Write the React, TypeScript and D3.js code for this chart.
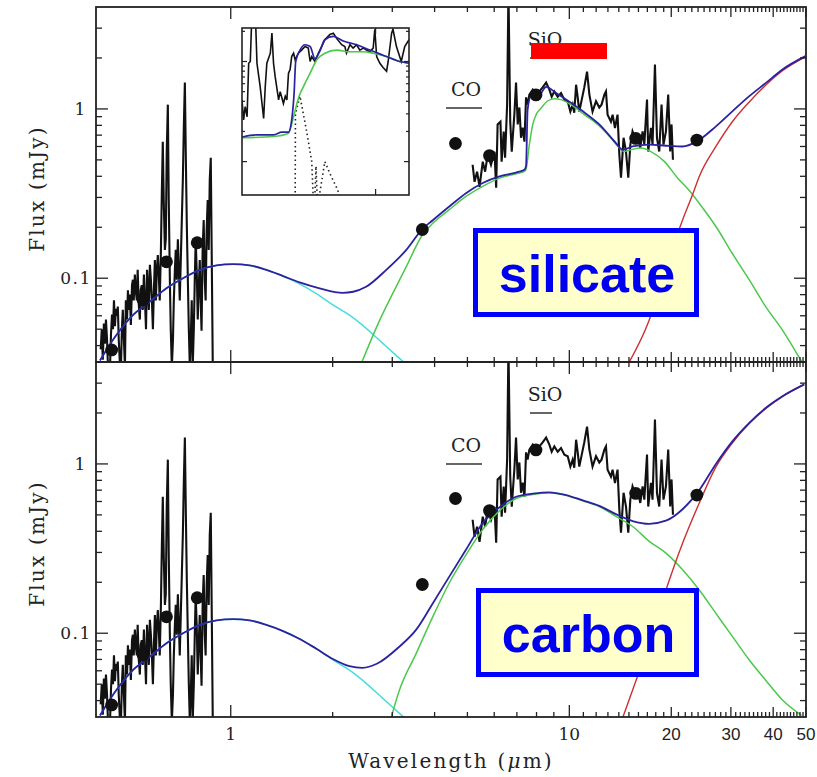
import React, { useRef, useEffect } from 'react';
import * as d3 from 'd3';

type Pt = [number, number];

// photometry (um, mJy) - same points in both panels
const photometry: Pt[] = [
  [0.445, 0.0377], [0.551, 0.0743], [0.646, 0.125], [0.796, 0.162],
  [3.68, 0.194], [4.61, 0.625], [5.81, 0.53], [7.97, 1.21], [15.7, 0.67], [23.8, 0.655],
];

// optical spectrum
const opticalSpec: Pt[] = [
  [0.413, 0.038], [0.416, 0.05], [0.419, 0.033], [0.422, 0.054], [0.425, 0.041], [0.428, 0.057],
  [0.431, 0.044], [0.434, 0.03], [0.44, 0.03], [0.443, 0.047], [0.446, 0.061], [0.449, 0.05],
  [0.452, 0.074], [0.455, 0.052], [0.458, 0.066], [0.461, 0.06], [0.464, 0.068], [0.467, 0.043],
  [0.471, 0.03], [0.474, 0.03], [0.477, 0.05], [0.48, 0.065], [0.484, 0.041], [0.487, 0.03],
  [0.49, 0.074], [0.494, 0.057], [0.497, 0.085], [0.5, 0.065], [0.504, 0.08], [0.507, 0.053],
  [0.511, 0.091], [0.514, 0.098], [0.517, 0.074], [0.521, 0.105], [0.524, 0.085], [0.528, 0.074],
  [0.531, 0.112], [0.535, 0.07], [0.539, 0.057], [0.542, 0.085], [0.546, 0.091], [0.55, 0.065],
  [0.554, 0.105], [0.558, 0.074], [0.562, 0.05], [0.566, 0.112], [0.569, 0.091], [0.573, 0.065],
  [0.577, 0.12], [0.581, 0.098], [0.585, 0.074], [0.589, 0.05], [0.593, 0.085], [0.597, 0.128],
  [0.601, 0.074], [0.605, 0.112], [0.609, 0.137], [0.613, 0.105], [0.617, 0.074], [0.622, 0.147],
  [0.626, 0.33], [0.63, 0.64], [0.634, 0.29], [0.639, 0.147], [0.643, 0.17], [0.647, 0.55],
  [0.652, 1.06], [0.656, 0.29], [0.661, 0.098], [0.665, 0.05], [0.67, 0.03], [0.675, 0.043],
  [0.679, 0.074], [0.684, 0.112], [0.688, 0.147], [0.693, 0.098], [0.698, 0.17], [0.702, 0.12],
  [0.707, 0.074], [0.712, 0.128], [0.717, 0.221], [0.722, 0.382], [0.727, 0.8], [0.732, 1.43],
  [0.737, 0.5], [0.742, 0.2], [0.747, 0.098], [0.752, 0.05], [0.757, 0.03], [0.762, 0.043],
  [0.767, 0.074], [0.772, 0.03], [0.778, 0.05], [0.783, 0.098], [0.788, 0.169], [0.794, 0.105],
  [0.799, 0.057], [0.804, 0.085], [0.81, 0.128], [0.815, 0.074], [0.82, 0.049], [0.826, 0.147],
  [0.832, 0.221], [0.838, 0.098], [0.843, 0.074], [0.849, 0.193], [0.855, 0.29], [0.861, 0.147],
  [0.867, 0.382], [0.873, 0.515], [0.879, 0.128], [0.885, 0.03],
];

// mid-IR spectrum
const irSpec: Pt[] = [
  [5.18, 0.468], [5.25, 0.371], [5.34, 0.426], [5.43, 0.347], [5.55, 0.488], [5.64, 0.426],
  [5.74, 0.537], [5.87, 0.468], [6.01, 0.559], [6.08, 0.342], [6.14, 0.81], [6.26, 0.841],
  [6.31, 0.488], [6.4, 0.734], [6.46, 0.515], [6.55, 1.06], [6.61, 5], [6.69, 0.841],
  [6.76, 0.559], [6.88, 0.925], [6.96, 1.43], [7.04, 0.81], [7.12, 1.02], [7.2, 0.676],
  [7.28, 0.775], [7.37, 0.64], [7.45, 1.17], [7.53, 1.06], [7.62, 1.215], [7.8, 1.3],
  [7.98, 1.215], [8.16, 1.27], [8.34, 1.34], [8.54, 1.43], [8.73, 1.3], [8.87, 1.18],
  [9.03, 1.27], [9.24, 1.18], [9.45, 1.24], [9.67, 1.135], [9.89, 1.11], [10.07, 0.964],
  [10.23, 1.06], [10.34, 0.95], [10.47, 1.39], [10.58, 1.18], [10.7, 0.964], [11.07, 1.34],
  [11.28, 1.66], [11.46, 1.215], [11.71, 0.964], [11.99, 1.11], [12.26, 1.02], [12.45, 1.06],
  [12.69, 1.215], [12.83, 1.27], [12.97, 0.925], [13.27, 0.841], [13.42, 0.925], [13.64, 0.772],
  [13.88, 0.925], [14.05, 0.537], [14.21, 0.392], [14.46, 0.676], [14.7, 0.56], [14.93, 0.392],
  [15.14, 0.615], [15.37, 0.737], [15.63, 0.673], [15.91, 0.704], [16.2, 0.588], [16.46, 0.737],
  [16.65, 0.615], [16.96, 1.135], [17.1, 0.56], [17.42, 0.772], [17.61, 0.615], [17.9, 1.83],
  [18.15, 0.673], [18.43, 0.56], [18.72, 1.06], [18.97, 0.615], [19.29, 0.737], [19.59, 1.215],
  [19.86, 0.56], [20.04, 0.81], [20.23, 0.501],
];

// stellar photosphere (cyan), both panels
const stellar: Pt[] = [
  [0.411, 0.0327], [0.46, 0.0463], [0.515, 0.0607], [0.577, 0.0727], [0.646, 0.0873],
  [0.723, 0.1], [0.81, 0.112], [0.907, 0.119], [1.016, 0.121], [1.138, 0.119], [1.274, 0.112],
  [1.427, 0.103], [1.598, 0.0925], [1.789, 0.081], [2.003, 0.0697], [2.243, 0.0605],
  [2.512, 0.0506], [2.813, 0.0412], [3.15, 0.0336], [3.53, 0.0275],
];

// silicate model
const silTotal: Pt[] = [
  [0.411, 0.0327], [0.46, 0.0463], [0.515, 0.0607], [0.577, 0.0727], [0.646, 0.0873],
  [0.723, 0.1], [0.81, 0.112], [0.907, 0.119], [1.016, 0.121], [1.138, 0.119], [1.274, 0.112],
  [1.427, 0.103], [1.598, 0.0945], [1.83, 0.0872], [2.14, 0.082], [2.3, 0.0832], [2.51, 0.089],
  [2.88, 0.112], [3.3, 0.147], [3.68, 0.195], [3.95, 0.22], [4.42, 0.265], [4.95, 0.318],
  [5.55, 0.365], [6.22, 0.399], [6.96, 0.421], [7.37, 0.437], [7.45, 0.46], [7.53, 0.99],
  [7.7, 1.19], [8.16, 1.21], [8.54, 1.35], [9.14, 1.24], [9.78, 1.135], [10.96, 0.968],
  [12.26, 0.81], [13.73, 0.629], [14.37, 0.574], [15.38, 0.6], [17.22, 0.615], [19.29, 0.606],
  [21.6, 0.6], [23.8, 0.643], [27.1, 0.789], [30.3, 0.968], [34.0, 1.19], [38.0, 1.42],
  [42.6, 1.71], [49.8, 2.05],
];
const silWarm: Pt[] = [
  [2.44, 0.032], [2.7, 0.0518], [3.3, 0.117], [3.68, 0.18], [3.95, 0.211], [4.42, 0.254],
  [4.95, 0.304], [5.55, 0.349], [6.22, 0.39], [6.96, 0.414], [7.37, 0.428], [7.45, 0.44],
  [7.62, 0.615], [7.8, 0.81], [7.98, 0.925], [8.25, 1.01], [8.6, 1.11], [9.03, 1.15],
  [9.45, 1.135], [10.11, 1.06], [11.07, 0.925], [12.12, 0.81], [13.27, 0.673], [14.05, 0.588],
  [14.53, 0.56], [15.2, 0.574], [16.3, 0.588], [17.42, 0.56], [19.07, 0.49], [20.9, 0.39],
  [22.6, 0.33], [24.7, 0.262], [27.1, 0.202], [30.3, 0.14], [34.0, 0.0977], [38.0, 0.068],
  [42.6, 0.0494], [48.6, 0.032],
];
const silCold: Pt[] = [
  [15.03, 0.032], [17.22, 0.0567], [19.29, 0.117], [21.6, 0.221], [23.2, 0.318], [24.2, 0.399],
  [27.1, 0.6], [30.3, 0.84], [34.0, 1.1], [38.0, 1.38], [42.6, 1.68], [49.8, 2.03],
];

// carbon model
const carTotal: Pt[] = [
  [0.411, 0.0327], [0.46, 0.0463], [0.515, 0.0607], [0.577, 0.0727], [0.646, 0.0873],
  [0.723, 0.1], [0.81, 0.112], [0.907, 0.119], [1.016, 0.121], [1.138, 0.119], [1.274, 0.112],
  [1.427, 0.103], [1.598, 0.0925], [1.789, 0.081], [2.003, 0.0705], [2.24, 0.064], [2.45, 0.0625],
  [2.7, 0.066], [3.15, 0.0834], [3.53, 0.105], [3.95, 0.15], [4.42, 0.216], [4.95, 0.311],
  [5.55, 0.448], [6.22, 0.555], [6.96, 0.64], [7.8, 0.667], [8.73, 0.68], [9.78, 0.655],
  [10.96, 0.609], [12.26, 0.565], [13.73, 0.505], [15.38, 0.46], [17.22, 0.443], [19.29, 0.462],
  [21.6, 0.54], [24.2, 0.7], [27.1, 1.0], [30.3, 1.36], [34.0, 1.75], [38.0, 2.14],
  [42.6, 2.51], [49.4, 2.95],
];
const carWarm: Pt[] = [
  [2.98, 0.032], [3.15, 0.0462], [3.53, 0.076], [3.95, 0.125], [4.42, 0.198], [4.95, 0.29],
  [5.55, 0.41], [6.22, 0.53], [6.96, 0.625], [7.8, 0.66], [8.73, 0.675], [9.78, 0.652],
  [10.96, 0.606], [12.26, 0.56], [13.73, 0.49], [15.38, 0.427], [17.22, 0.349], [19.29, 0.297],
  [21.6, 0.237], [24.2, 0.18], [27.1, 0.131], [30.3, 0.0958], [34.0, 0.0695], [38.0, 0.0528],
  [42.6, 0.0403], [48.5, 0.0327],
];
const carCold: Pt[] = [
  [14.4, 0.032], [15.38, 0.0462], [17.22, 0.0874], [19.29, 0.18], [21.6, 0.34], [24.2, 0.588],
  [27.1, 0.96], [30.3, 1.33], [34.0, 1.73], [38.0, 2.12], [42.6, 2.5], [49.4, 2.94],
];

// inset: zoom on the silicate feature
const insetSpec: Pt[] = [
  [5.0, 0.414], [5.06, 0.261], [5.12, 0.355], [5.19, 0.28], [5.25, 0.96], [5.31, 1.0],
  [5.37, 3], [5.5, 3], [5.56, 0.96], [5.68, 0.56], [5.81, 0.27], [5.87, 0.56], [5.93, 0.96],
  [6.06, 1.21], [6.12, 1.92], [6.18, 0.96], [6.24, 0.71], [6.37, 0.414], [6.43, 0.5],
  [6.55, 0.38], [6.62, 0.45], [6.68, 0.414], [6.74, 0.765], [6.8, 0.83], [6.86, 1.12],
  [6.93, 1.21], [6.99, 1.04], [7.11, 1.21], [7.23, 1.3], [7.36, 1.41], [7.48, 1.36],
  [7.55, 1.0], [7.61, 1.12], [7.73, 1.0], [7.86, 1.21], [7.98, 1.41], [8.1, 1.65],
  [8.29, 1.86], [8.42, 1.92], [8.54, 1.7], [8.73, 1.47], [8.85, 1.41], [8.91, 1.21],
  [9.04, 1.47], [9.16, 1.36], [9.29, 1.47], [9.41, 1.3], [9.54, 1.36], [9.66, 1.3],
  [9.78, 1.25], [9.91, 1.36], [9.97, 2.1], [10.04, 1.12], [10.16, 0.96], [10.28, 0.87],
  [10.41, 0.8], [10.47, 1.0], [10.6, 1.92], [10.65, 2.1], [10.78, 1.41], [10.9, 1.12],
  [10.96, 1.0], [11.09, 1.41], [11.25, 1.65],
];
const insetTotal: Pt[] = [
  [5.0, 0.176], [5.56, 0.185], [6.18, 0.185], [6.49, 0.197], [6.74, 0.197], [6.86, 0.261],
  [6.95, 0.483], [7.01, 1.0], [7.17, 1.3], [7.36, 1.47], [7.55, 1.41], [7.73, 1.07],
  [7.9, 1.25], [8.1, 1.65], [8.42, 1.78], [8.79, 1.6], [9.29, 1.47], [9.78, 1.3],
  [10.41, 1.12], [10.9, 1.0], [11.25, 0.96],
];
const insetDust: Pt[] = [
  [5.0, 0.173], [6.18, 0.178], [6.74, 0.192], [6.93, 0.28], [7.11, 0.43], [7.3, 0.562],
  [7.55, 0.765], [7.8, 1.04], [8.1, 1.21], [8.54, 1.3], [9.04, 1.25], [9.54, 1.25],
  [9.91, 1.21], [10.41, 1.12], [10.9, 1.0], [11.25, 0.96],
];
const insetBandA: Pt[] = [[6.99, 0.04], [7.0, 0.3], [7.17, 0.45], [7.42, 0.2], [7.61, 0.1], [7.67, 0.04]];
const insetBandB: Pt[] = [[7.72, 0.04], [7.77, 0.09], [7.82, 0.04]];
const insetBandC: Pt[] = [[7.86, 0.04], [8.1, 0.1], [8.3, 0.075], [8.54, 0.055], [8.67, 0.045]];

// axis ticks and labels
const xTickLabels: Pt[] = [[1, 0], [10, 0], [20, 1], [30, 1], [40, 1], [50, 1]];
const xMinorTicks = [2, 3, 4, 5, 6, 7, 8, 9].concat(d3.range(11, 50).filter(v => v % 10 !== 0));
const yTickLabels = [0.1, 1];
const yMinorTicks = [0.04, 0.05, 0.06, 0.07, 0.08, 0.09, 0.2, 0.3, 0.4, 0.5, 0.6, 0.7, 0.8, 0.9, 2, 3];
const insetYTicks = [0.1, 1];
const insetYMinor = [0.2, 0.3, 0.4, 0.5, 0.6, 0.7, 0.8, 0.9, 2];

const panelDefs = [
  { top: 7, bottom: 362, total: silTotal, warm: silWarm, cold: silCold, label: 'silicate', box: [473, 228, 226, 89] },
  { top: 362, bottom: 717, total: carTotal, warm: carWarm, cold: carCold, label: 'carbon', box: [476, 588, 223, 89] },
];

const SERIF = '"DejaVu Serif", serif';
const SANS = '"Liberation Sans", Arial, sans-serif';

const App = () => {
  const svgRef = useRef<SVGSVGElement>(null);

  useEffect(() => {
    const svg = d3.select(svgRef.current);
    svg.selectAll('*').remove();

    const left = 96, right = 806;
    const x = d3.scaleLog().domain([0.4, 50]).range([left, right]);

    svg.append('rect').attr('width', 817).attr('height', 777).attr('fill', 'white');

    panelDefs.forEach((p, i) => {
      const y = d3.scaleLog().domain([0.032, 4]).range([p.bottom, p.top]);
      const clipId = `panel-clip-${i}`;
      svg.append('clipPath').attr('id', clipId)
        .append('rect').attr('x', left).attr('y', p.top).attr('width', right - left).attr('height', p.bottom - p.top);

      const g = svg.append('g').attr('clip-path', `url(#${clipId})`);
      const straight = d3.line<Pt>().x(d => x(d[0])).y(d => y(d[1]));
      const smooth = d3.line<Pt>().x(d => x(d[0])).y(d => y(d[1])).curve(d3.curveMonotoneX);

      [opticalSpec, irSpec].forEach(s => {
        g.append('path').attr('d', straight(s)).attr('fill', 'none')
          .attr('stroke', '#111').attr('stroke-width', 2.1).attr('stroke-linejoin', 'miter');
      });

      g.append('path').attr('d', smooth(stellar)).attr('fill', 'none').attr('stroke', '#48dcdc').attr('stroke-width', 1.5);
      g.append('path').attr('d', smooth(p.warm)).attr('fill', 'none').attr('stroke', '#4cc84c').attr('stroke-width', 1.5);
      g.append('path').attr('d', smooth(p.cold)).attr('fill', 'none').attr('stroke', '#cc3030').attr('stroke-width', 1.4);
      g.append('path').attr('d', smooth(p.total)).attr('fill', 'none').attr('stroke', '#2a22a0').attr('stroke-width', 1.8);

      g.selectAll('circle.phot').data(photometry).enter().append('circle')
        .attr('cx', d => x(d[0])).attr('cy', d => y(d[1])).attr('r', 6.4).attr('fill', '#111');

      // frame
      svg.append('rect').attr('x', left).attr('y', p.top).attr('width', right - left).attr('height', p.bottom - p.top)
        .attr('fill', 'none').attr('stroke', '#222').attr('stroke-width', 1.8);

      const ticks = svg.append('g').attr('stroke', '#222').attr('stroke-width', 1.3);
      const xTick = (v: number, len: number) => {
        ticks.append('line').attr('x1', x(v)).attr('x2', x(v)).attr('y1', p.bottom).attr('y2', p.bottom - len);
        ticks.append('line').attr('x1', x(v)).attr('x2', x(v)).attr('y1', p.top).attr('y2', p.top + len);
      };
      const yTick = (v: number, len: number) => {
        ticks.append('line').attr('x1', left).attr('x2', left + len).attr('y1', y(v)).attr('y2', y(v));
        ticks.append('line').attr('x1', right).attr('x2', right - len).attr('y1', y(v)).attr('y2', y(v));
      };
      xTickLabels.forEach(([v, k]) => xTick(v, k ? 10 : 12));
      xMinorTicks.forEach(v => xTick(v, 5));
      yTickLabels.forEach(v => yTick(v, 12));
      yMinorTicks.forEach(v => yTick(v, 6));

      yTickLabels.forEach(v => {
        svg.append('text').attr('x', v === 1 ? 80 : 76).attr('y', y(v)).attr('dy', '0.35em')
          .attr('text-anchor', 'middle').attr('font-family', SERIF).attr('font-size', 17)
          .attr('letter-spacing', v === 1 ? 0 : 1.5).attr('fill', '#222').text(String(v));
      });

      svg.append('text')
        .attr('transform', `translate(44, ${(p.top + p.bottom) / 2 + 4}) rotate(-90)`)
        .attr('text-anchor', 'middle').attr('font-family', SERIF).attr('font-size', 20)
        .attr('letter-spacing', 2.2).attr('fill', '#222').text('Flux (mJy)');

      // CO / SiO band marks
      const coY = y(1) + (i === 0 ? -1 : 0);
      svg.append('text').attr('x', 466).attr('y', coY - 12).attr('text-anchor', 'middle')
        .attr('font-family', SERIF).attr('font-size', 19).attr('fill', '#222').text('CO');
      svg.append('line').attr('x1', 446).attr('x2', 482).attr('y1', coY).attr('y2', coY)
        .attr('stroke', '#333').attr('stroke-width', 1.5);
      const sioY = p.top + 51;
      svg.append('text').attr('x', 545).attr('y', sioY - 12).attr('text-anchor', 'middle')
        .attr('font-family', SERIF).attr('font-size', 19).attr('fill', '#222').text('SiO');
      svg.append('line').attr('x1', 530).attr('x2', 552).attr('y1', sioY).attr('y2', sioY)
        .attr('stroke', '#333').attr('stroke-width', 1.5);

      // label box
      const [bx, by, bw, bh] = p.box;
      svg.append('rect').attr('x', bx + 2.5).attr('y', by + 2.5).attr('width', bw - 5).attr('height', bh - 5)
        .attr('fill', '#ffffcc').attr('stroke', '#0000ff').attr('stroke-width', 5);
      svg.append('text').attr('x', bx + bw / 2 + 1).attr('y', by + bh / 2 + 19).attr('text-anchor', 'middle')
        .attr('font-family', SANS).attr('font-weight', 'bold').attr('font-size', 52)
        .attr('fill', '#0000f0').text(p.label);
    });

    // red bar covering the SiO mark in the top panel
    svg.append('rect').attr('x', 531).attr('y', 43).attr('width', 76).attr('height', 16).attr('fill', '#ff0000');

    // x tick labels
    xTickLabels.forEach(([v, k]) => {
      svg.append('text').attr('x', x(v)).attr('y', 740).attr('text-anchor', 'middle')
        .attr('font-family', k ? SANS : SERIF).attr('font-size', 17).attr('fill', '#222').text(String(v));
    });
    const xt = svg.append('text').attr('x', 451).attr('y', 768).attr('text-anchor', 'middle')
      .attr('font-family', SERIF).attr('font-size', 20).attr('letter-spacing', 2.2).attr('fill', '#222');
    xt.append('tspan').text('Wavelength (');
    xt.append('tspan').attr('font-style', 'italic').text('\u03bc');
    xt.append('tspan').text('m)');

    // inset
    const ix = d3.scaleLinear().domain([5, 11.25]).range([242, 409]);
    const iy = d3.scaleLog().domain([0.0464, 2.16]).range([195, 28]);
    svg.append('clipPath').attr('id', 'inset-clip')
      .append('rect').attr('x', 242).attr('y', 28).attr('width', 167).attr('height', 167);
    svg.append('rect').attr('x', 242).attr('y', 28).attr('width', 167).attr('height', 167).attr('fill', 'white');
    const ig = svg.append('g').attr('clip-path', 'url(#inset-clip)');
    const iline = d3.line<Pt>().x(d => ix(d[0])).y(d => iy(d[1]));
    const ismooth = d3.line<Pt>().x(d => ix(d[0])).y(d => iy(d[1])).curve(d3.curveMonotoneX);
    ig.append('path').attr('d', iline(insetSpec)).attr('fill', 'none').attr('stroke', '#111').attr('stroke-width', 1.6);
    [insetBandA, insetBandB, insetBandC].forEach(b => {
      ig.append('path').attr('d', iline(b)).attr('fill', 'none').attr('stroke', '#222')
        .attr('stroke-width', 1.6).attr('stroke-dasharray', '1.5,3');
    });
    ig.append('path').attr('d', ismooth(insetDust)).attr('fill', 'none').attr('stroke', '#4cc84c').attr('stroke-width', 1.6);
    ig.append('path').attr('d', ismooth(insetTotal)).attr('fill', 'none').attr('stroke', '#2a22a0').attr('stroke-width', 1.7);
    const it = svg.append('g').attr('stroke', '#222').attr('stroke-width', 1.2);
    insetYTicks.forEach(v => {
      it.append('line').attr('x1', 242).attr('x2', 247).attr('y1', iy(v)).attr('y2', iy(v));
      it.append('line').attr('x1', 409).attr('x2', 404).attr('y1', iy(v)).attr('y2', iy(v));
    });
    insetYMinor.forEach(v => {
      it.append('line').attr('x1', 242).attr('x2', 245).attr('y1', iy(v)).attr('y2', iy(v));
      it.append('line').attr('x1', 409).attr('x2', 406).attr('y1', iy(v)).attr('y2', iy(v));
    });
    it.append('line').attr('x1', ix(10)).attr('x2', ix(10)).attr('y1', 28).attr('y2', 34);
    it.append('line').attr('x1', ix(10)).attr('x2', ix(10)).attr('y1', 195).attr('y2', 189);
    svg.append('rect').attr('x', 242).attr('y', 28).attr('width', 167).attr('height', 167)
      .attr('fill', 'none').attr('stroke', '#222').attr('stroke-width', 1.6);
  }, []);

  return (
    <div style={{ position: 'absolute', left: 0, top: 0 }}>
      <svg ref={svgRef} width={817} height={777} style={{ display: 'block' }} />
    </div>
  );
};

export default App;
